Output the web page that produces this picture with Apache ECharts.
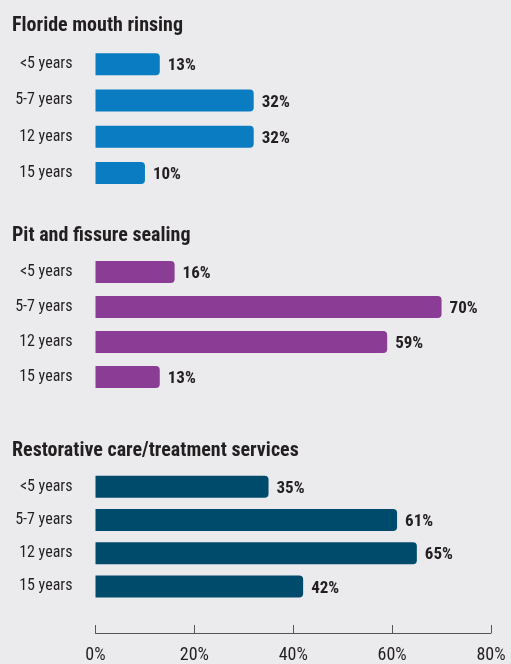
<!DOCTYPE html>
<html><head><meta charset="utf-8">
<script src="https://cdn.jsdelivr.net/npm/echarts@6/dist/echarts.min.js"></script>
<style>html,body{margin:0;padding:0;background:#ebebee;}#c{width:511px;height:664px;}</style>
</head><body><div id="c"></div>
<script>
const categories = ['<5 years', '5-7 years', '12 years', '15 years'];
const panelTitles = ['Floride mouth rinsing', 'Pit and fissure sealing', 'Restorative care/treatment services'];
const flourideValues = [13, 32, 32, 10];
const sealingValues = [16, 70, 59, 13];
const restorativeValues = [35, 61, 65, 42];
const xTicks = [0, 20, 40, 60, 80];

const FONT = "'Liberation Sans Narrow','Roboto Condensed','Liberation Sans',sans-serif";
const TXT = '#231f20';
const colors = ['#0a7cc1', '#8b3d95', '#004b6c'];
const seriesData = [flourideValues, sealingValues, restorativeValues];
const grids = [
  {left: 95.5, right: 20, top: 46, height: 145},
  {left: 95.5, right: 20, top: 254.5, height: 140},
  {left: 95.5, right: 20, top: 470, height: 136}
];
const titleTops = [16, 226, 441];

const chart = echarts.init(document.getElementById('c'), null, {renderer: 'canvas'});
chart.setOption({
  backgroundColor: '#ebebee',
  animation: false,
  title: panelTitles.map((t, i) => ({
    text: t, left: 12, top: titleTops[i], padding: 0,
    textStyle: {fontFamily: FONT, fontWeight: 'bold', fontSize: 20, color: TXT}
  })),
  grid: grids,
  xAxis: grids.map((g, i) => ({
    type: 'value', gridIndex: i, min: xTicks[0], max: xTicks[xTicks.length - 1], interval: 20,
    show: i === 2, offset: 30,
    axisLine: {show: true, lineStyle: {color: '#555', width: 1}},
    axisTick: {show: true, inside: true, length: 8, lineStyle: {color: '#555'}},
    axisLabel: {show: true, margin: 13, formatter: '{value}%', fontFamily: FONT, fontSize: 18, color: TXT},
    splitLine: {show: false}
  })),
  yAxis: grids.map((g, i) => ({
    type: 'category', gridIndex: i, data: categories, inverse: true,
    axisLine: {show: false}, axisTick: {show: false},
    axisLabel: {margin: 23, fontFamily: FONT, fontSize: 16, color: TXT}
  })),
  series: seriesData.map((d, i) => ({
    type: 'bar', xAxisIndex: i, yAxisIndex: i, data: d, barWidth: 22,
    itemStyle: {color: colors[i], borderRadius: [0, 4, 4, 0]},
    label: {show: true, position: 'right', distance: 8, offset: [0, 2], formatter: '{c}%',
      fontFamily: FONT, fontWeight: 'bold', fontSize: 17, color: TXT}
  }))
});
</script></body></html>
